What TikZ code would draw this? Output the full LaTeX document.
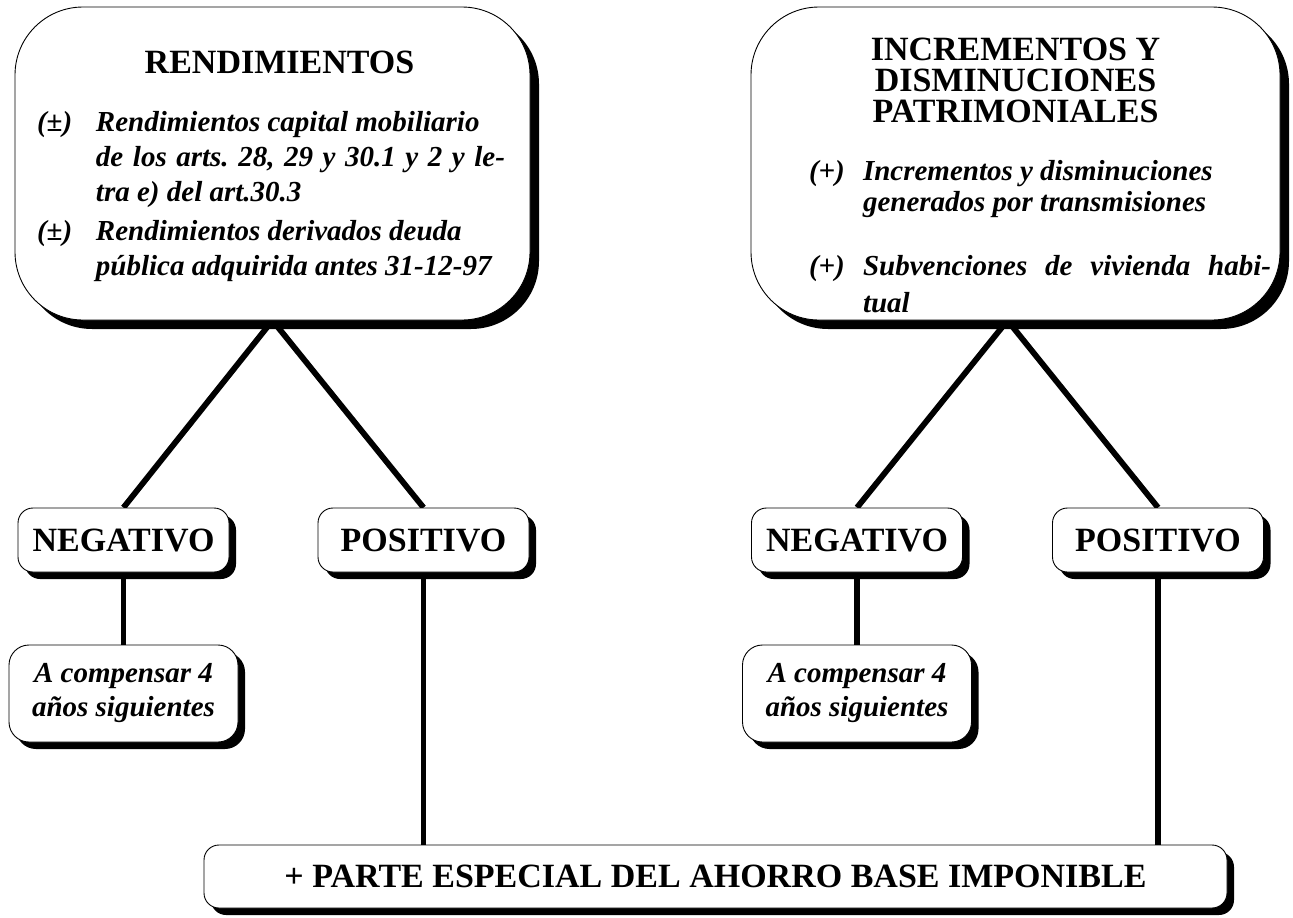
\documentclass[tikz,border=0pt]{standalone}
\usepackage{fontspec}
\setmainfont{Liberation Serif}
\usepackage{tikz}
\usetikzlibrary{shadows}

\pgfdeclarelayer{background}
\pgfsetlayers{background,main}

\newcommand{\headfnt}{\fontsize{34}{34}\selectfont\bfseries\upshape}
\newcommand{\notefnt}{\fontsize{29}{34}\selectfont\bfseries\itshape}
\frenchspacing

\begin{document}
\begin{tikzpicture}[x=1pt, y=-1pt,
    shadowed/.style={drop shadow={shadow xshift=#1, shadow yshift=-#1, opacity=1, fill=black}},
    bigbox/.style={draw, fill=white, line width=0.9pt, inner sep=0pt, rounded corners=68pt, shadowed=9pt},
    tagbox/.style={draw, fill=white, line width=0.9pt, inner sep=0pt, rounded corners=15pt, shadowed=7pt,
        minimum width=211pt, minimum height=64pt, font=\headfnt},
    notebox/.style={draw, fill=white, line width=0.9pt, inner sep=0pt, rounded corners=20pt, shadowed=7pt,
        minimum width=229pt, minimum height=97pt, align=center, font=\notefnt},
    link/.style={line width=5.8pt}]
    \useasboundingbox (0,0) rectangle (1293,918);

    	\node[bigbox] (rend) at (272.5,163.5) {\begin{minipage}[c][313pt][t]{515pt}
    		\fontsize{29}{35}\selectfont\bfseries\itshape
    		\vspace*{42pt}
    		\rule{0pt}{24pt}\makebox[\linewidth]{\hspace*{14pt}\headfnt RENDIMIENTOS}\\[23pt]
    		\hspace*{22pt}\makebox[59pt][l]{(±)}Rendimientos capital mobiliario\\
    		\hspace*{81pt}\makebox[409pt][s]{de los arts. 28, 29 y 30.1 y 2 y le-}\\
    		\hspace*{81pt}tra e) del art.30.3\\[4pt]
    		\hspace*{22pt}\makebox[59pt][l]{(±)}Rendimientos derivados deuda\\
    		\hspace*{81pt}pública adquirida antes 31-12-97
    	\end{minipage}};
    	\node[bigbox] (incr) at (1015.5,163.5) {\begin{minipage}[c][313pt][t]{529pt}
    		\fontsize{29}{31}\selectfont\bfseries\itshape
    		\vspace*{29pt}
    		\rule{0pt}{24pt}\makebox[\linewidth]{\headfnt INCREMENTOS Y}\\
    		\makebox[\linewidth]{\headfnt DISMINUCIONES}\\
    		\makebox[\linewidth]{\headfnt PATRIMONIALES}\\[27pt]
    		\hspace*{58pt}\makebox[54pt][l]{(+)}Incrementos y disminuciones\\
    		\hspace*{112pt}generados por transmisiones\\[33pt]
    		\hspace*{58pt}\makebox[54pt][l]{(+)}\makebox[408pt][s]{Subvenciones de vivienda habi-}\\[6pt]
    		\hspace*{112pt}tual
    	\end{minipage}};

    	\node[tagbox] (neg1) at (123.5,540) {NEGATIVO};
    	\node[tagbox] (pos1) at (423.5,540) {POSITIVO};
    	\node[tagbox] (neg2) at (857,540) {NEGATIVO};
    	\node[tagbox] (pos2) at (1158,540) {POSITIVO};
    	\node[notebox] (comp1) at (123.5,693.5) {A compensar 4\\años siguientes};
    	\node[notebox] (comp2) at (857,693.5) {A compensar 4\\años siguientes};
    	\node[tagbox, minimum width=1023pt, minimum height=63pt] (base) at (715.5,876.5)
    		{+ PARTE ESPECIAL DEL AHORRO BASE IMPONIBLE};

    	\begin{pgfonlayer}{background}
    	\draw[link] (rend.south) edge (neg1.north) edge (pos1.north)
    		([xshift=-8pt]incr.south) edge (neg2.north) edge (pos2.north)
    		(neg1) edge (comp1)
    		(neg2) edge (comp2)
    		(pos1.south) edge (pos1.south |- base.north)
    		(pos2.south) edge (pos2.south |- base.north)
    	;
    	\end{pgfonlayer}
    \end{tikzpicture}
\end{document}
